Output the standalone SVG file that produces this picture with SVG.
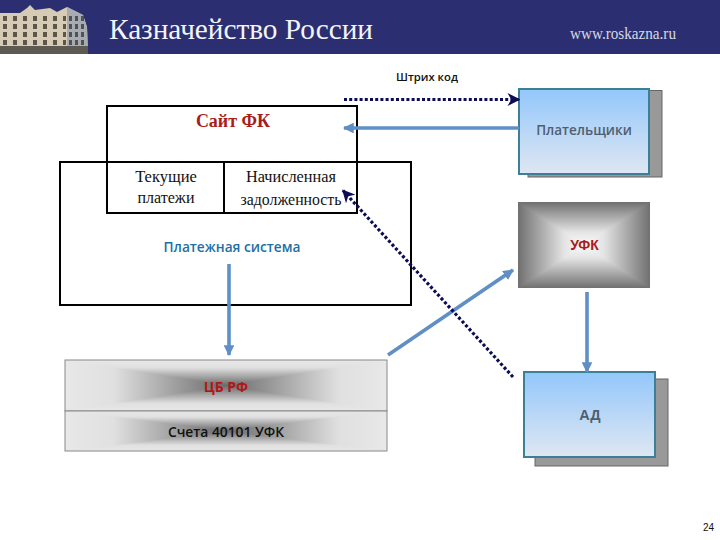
<svg xmlns="http://www.w3.org/2000/svg" width="720" height="540" viewBox="0 0 720 540">
<style>
.box{fill:none;stroke:#000;stroke-width:2}
.ser{font-family:"Liberation Serif","DejaVu Serif",serif;font-size:16px;text-anchor:middle;fill:#111}
.san{font-family:"Open Sans","Liberation Sans",sans-serif;font-weight:600;text-anchor:middle}
.bold{font-weight:700}
.sb{font-family:"Liberation Sans",sans-serif;font-weight:700;text-anchor:middle}
.blue{stroke:#5f8fc6;stroke-width:3.6;fill:none}
.dot{stroke:#0d0d55;stroke-width:3.2;stroke-dasharray:3 2.2;fill:none}
polygon{shape-rendering:crispEdges}
</style>
<defs>
<linearGradient id="sky" x1="0" y1="0" x2="0" y2="1"><stop offset="0" stop-color="#93c7fb"/><stop offset="1" stop-color="#dfe7f2"/></linearGradient>
<linearGradient id="uT" x1="0" y1="0" x2="0" y2="1"><stop offset="0" stop-color="#707070"/><stop offset=".7" stop-color="#e4e4e4"/><stop offset="1" stop-color="#fafafa"/></linearGradient>
<linearGradient id="uB" href="#uT" x1="0" y1="1" x2="0" y2="0"/>
<linearGradient id="uL" href="#uT" x1="0" y1="0" x2="1" y2="0"/>
<linearGradient id="uR" href="#uT" x1="1" y1="0" x2="0" y2="0"/>
<linearGradient id="cT" x1="0" y1="0" x2="0" y2="1"><stop offset="0" stop-color="#e8e8e8"/><stop offset=".3" stop-color="#e0e0e0"/><stop offset="1" stop-color="#6a6a6a"/></linearGradient>
<linearGradient id="cB" href="#cT" x1="0" y1="1" x2="0" y2="0"/>
<linearGradient id="cL" href="#cT" x1="0" y1="0" x2="1" y2="0"/>
<linearGradient id="cR" href="#cT" x1="1" y1="0" x2="0" y2="0"/>
<pattern id="win" width="10" height="8" patternUnits="userSpaceOnUse" x="2" y="15"><rect x="1" y="1" width="4" height="5" fill="#5d5446"/></pattern>
<pattern id="win2" width="6" height="8" patternUnits="userSpaceOnUse" x="68" y="15"><rect x="1" y="1" width="3" height="5" fill="#4e5258"/></pattern>
<filter id="soft"><feGaussianBlur stdDeviation=".5"/></filter>
<marker id="ab" viewBox="0 0 10 10" refX="9" refY="5" markerWidth="3" markerHeight="3" orient="auto"><path d="M0 0L10 5L0 10z" fill="#5f8fc6"/></marker>
<marker id="ad" viewBox="0 0 10 10" refX="9" refY="5" markerWidth="4" markerHeight="4" orient="auto"><path d="M0 0L10 5L0 10L3 5z" fill="#0d0d55"/></marker>
</defs>
<rect width="720" height="54" fill="#2b2f72"/>
<g id="building" filter="url(#soft)">
<path d="M0 13L20 13L27 8L30 5L35 10L50 8L57 12L67 7L83 15L87 27L88 54H0z" fill="#d6cbb4"/>
<path d="M67 7L83 15L87 27L88 54H67z" fill="#a8abb0"/>
<path d="M2 15H66V46H2z" fill="url(#win)"/>
<path d="M68 15H86V46H68z" fill="url(#win2)"/>
<path d="M0 46H88V54H0z" fill="#5d5a52"/>
</g>
<text x="109" y="39" font-family="Liberation Serif,serif" font-size="29" fill="#f4f4f8" textLength="264" lengthAdjust="spacingAndGlyphs">Казначейство России</text>
<text x="570" y="39" font-family="Liberation Serif,serif" font-size="16" fill="#d8d8e4" textLength="106" lengthAdjust="spacingAndGlyphs">www.roskazna.ru</text>

<g id="platezh-system"><rect class="box" x="60" y="162" width="351" height="143"/><text class="san" x="232" y="252" font-size="13.700" fill="#1d6fa5">Платежная система</text></g>
<g id="site"><rect class="box" x="107" y="106" width="250" height="107"/><path class="box" d="M107 162H357M224 162V213"/><text x="233" y="127" font-family="Liberation Serif,serif" font-weight="bold" font-size="18" text-anchor="middle" fill="#a81c1c">Сайт ФК</text></g>
<g id="tek"><text class="ser" x="166" y="182" style="font-size:16.500px">Текущие</text><text class="ser" x="166" y="203">платежи</text></g>
<g id="nach"><text class="ser" x="291" y="182" style="font-size:16.300px">Начисленная</text><text class="ser" x="291" y="205" style="font-size:15.800px">задолженность</text></g>
<text x="427" y="81" font-family="Open Sans,Liberation Sans,sans-serif" font-weight="600" font-size="11.300" text-anchor="middle" fill="#111">Штрих код</text>

<g id="payers"><rect x="528" y="90.500" width="134" height="86.500" fill="#999" stroke="#666"/><rect x="519" y="89" width="130" height="85" fill="url(#sky)" stroke="#3d8096" stroke-width="2"/><text class="san" x="584" y="135" font-size="13.500" fill="#4f5f72">Плательщики</text></g>
<g id="ufk-node"><rect x="518" y="202" width="132" height="86" fill="#a0a0a0"/>
<polygon points="518,202 650,202 584,245" fill="url(#uT)"/><polygon points="518,288 650,288 584,245" fill="url(#uB)"/><polygon points="518,202 518,288 584,245" fill="url(#uL)"/><polygon points="650,202 650,288 584,245" fill="url(#uR)"/>
<text class="sb" x="584.500" y="250" font-size="14" fill="#a81c1c">УФК</text></g>
<g id="cb"><rect x="65" y="360" width="322" height="51" fill="#c0c0c0"/>
<polygon points="65,360 387,360 226,385.500" fill="url(#cT)"/><polygon points="65,411 387,411 226,385.500" fill="url(#cB)"/><polygon points="65,360 65,411 226,385.500" fill="url(#cL)"/><polygon points="387,360 387,411 226,385.500" fill="url(#cR)"/>
<rect x="65" y="360" width="322" height="51" fill="none" stroke="#888"/><text class="san bold" x="226" y="392" font-size="14" fill="#b01818">ЦБ РФ</text></g>
<g id="acc"><rect x="65" y="411" width="322" height="40" fill="#c0c0c0"/>
<polygon points="65,411 387,411 226,431" fill="url(#cT)"/><polygon points="65,451 387,451 226,431" fill="url(#cB)"/><polygon points="65,411 65,451 226,431" fill="url(#cL)"/><polygon points="387,411 387,451 226,431" fill="url(#cR)"/>
<rect x="65" y="411" width="322" height="40" fill="none" stroke="#888"/><text class="san" x="226" y="437" font-size="13.800" fill="#111">Счета 40101 УФК</text></g>
<g id="ad-node"><rect x="535" y="379" width="133" height="87" fill="#999" stroke="#666"/><rect x="524" y="372" width="131" height="85" fill="url(#sky)" stroke="#3d8096" stroke-width="2"/><text class="sb" x="590" y="420" font-size="14.500" fill="#4f5f72">АД</text></g>

<g id="connectors">
<path class="dot" d="M344 99.500H519" marker-end="url(#ad)"/>
<path class="blue" d="M519 128H344" marker-end="url(#ab)"/>
<path class="blue" d="M229 264V355" marker-end="url(#ab)"/>
<path class="blue" d="M388 355L513 270" marker-end="url(#ab)"/>
<path class="blue" d="M587 292V372" marker-end="url(#ab)"/>
<path class="dot" d="M513 377L343 190.500" marker-end="url(#ad)"/>
</g>
<text x="703" y="531" font-family="Liberation Sans,sans-serif" font-size="10" fill="#111">24</text>
</svg>
